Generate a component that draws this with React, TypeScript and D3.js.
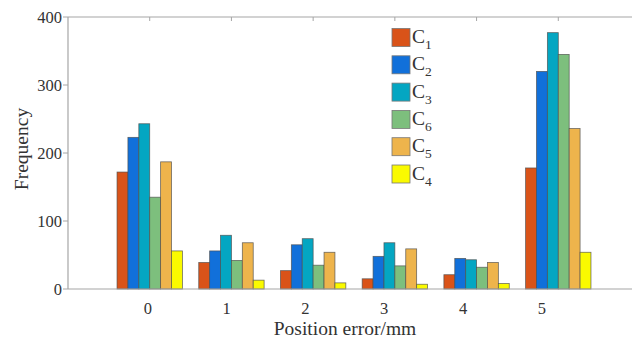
import React from "react";
import * as d3 from "d3";

// Position error categories (mm)
const categories = [0, 1, 2, 3, 4, 5];
const tickLabels = ["0", "1", "2", "3", "4", "5"];

// Frequency per series, in draw order
const seriesNames = ["1", "2", "3", "6", "5", "4"];
const c1 = [172, 39, 27, 15, 21, 178];
const c2 = [223, 56, 65, 48, 45, 320];
const c3 = [243, 79, 74, 68, 43, 377];
const c6 = [135, 42, 35, 34, 32, 345];
const c5 = [187, 68, 54, 59, 39, 236];
const c4 = [56, 13, 9, 7, 8, 54];
const seriesValues = [c1, c2, c3, c6, c5, c4];
const seriesColors = ["#D95319", "#1170DA", "#04A6C2", "#7DBF7D", "#EEB44C", "#FAFA00"];

const yTicks = [0, 100, 200, 300, 400];

const W = 632;
const H = 340;
const margin = { left: 68, top: 17, bottom: 289 };
const plotRight = 640;

export default function App() {
  const x = d3.scaleLinear().domain([-1, 6]).range([margin.left, plotRight]);
  const y = d3.scaleLinear().domain([0, 400]).range([margin.bottom, margin.top]);
  // tick labels sit on a slightly tighter spacing than the bar groups
  const xLabel = d3
    .scaleLinear()
    .domain([-1, 6])
    .range([margin.left + 1, margin.left + 1 + 7 * 78.8]);

  const groupWidth = (x(1) - x(0)) * 0.8;
  const inner = d3
    .scaleBand<number>()
    .domain(d3.range(seriesValues.length))
    .range([-groupWidth / 2, groupWidth / 2])
    .padding(0);

  const font = "'Liberation Serif', 'Times New Roman', serif";
  const axisColor = "#A6A6A6";
  const textColor = "#333";

  return (
    <svg
      width={W}
      height={H}
      style={{ position: "absolute", left: 0, top: 0, background: "#fff" }}
      fontFamily={font}
    >
      {/* bars */}
      {seriesValues.map((vals, si) =>
        categories.map((c, ci) => (
          <rect
            key={`${si}-${ci}`}
            x={x(c) + (inner(si) as number)}
            y={y(vals[ci])}
            width={inner.bandwidth()}
            height={y(0) - y(vals[ci])}
            fill={seriesColors[si]}
            stroke="#4d4d4d"
            strokeWidth={0.8}
            strokeOpacity={0.8}
          />
        ))
      )}

      {/* axes box */}
      <line x1={margin.left} x2={margin.left} y1={margin.top} y2={margin.bottom} stroke={axisColor} strokeWidth={1.2} />
      <line x1={margin.left} x2={W} y1={margin.bottom} y2={margin.bottom} stroke={axisColor} strokeWidth={1.2} />
      <line x1={margin.left} x2={W} y1={margin.top} y2={margin.top} stroke={axisColor} strokeWidth={1.2} />

      {/* top ticks at group centres */}
      {categories.map((c) => (
        <line key={`tt${c}`} x1={x(c)} x2={x(c)} y1={margin.top} y2={margin.top + 4} stroke={axisColor} strokeWidth={1} />
      ))}

      {/* y ticks and labels */}
      {yTicks.map((t) => (
        <g key={`y${t}`}>
          <line x1={margin.left - 5} x2={margin.left} y1={y(t)} y2={y(t)} stroke={axisColor} strokeWidth={1} />
          <text
            x={margin.left - 6}
            y={y(t)}
            dy="0.35em"
            textAnchor="end"
            fontSize={16.5}
            fill={textColor}
          >
            {t}
          </text>
        </g>
      ))}

      {/* x tick labels */}
      {categories.map((c, i) => (
        <text key={`xl${c}`} x={xLabel(c)} y={313.5} textAnchor="middle" fontSize={16.5} fill={textColor}>
          {tickLabels[i]}
        </text>
      ))}

      {/* axis titles */}
      <text x={345} y={334.5} textAnchor="middle" fontSize={19.5} fill={textColor}>
        Position error/mm
      </text>
      <text
        transform={`translate(28, 149) rotate(-90)`}
        textAnchor="middle"
        fontSize={19.5}
        fill={textColor}
      >
        Frequency
      </text>

      {/* legend */}
      {seriesNames.map((n, i) => {
        const top = 28.5 + i * 27.3;
        return (
          <g key={`lg${n}`}>
            <rect
              x={392}
              y={top}
              width={18}
              height={18}
              fill={seriesColors[i]}
              stroke="#777"
              strokeWidth={0.8}
            />
            <text x={412} y={top + 14.5} fontSize={19.5} fill={textColor}>
              C
              <tspan dy={6} fontSize={13.5}>
                {n}
              </tspan>
            </text>
          </g>
        );
      })}
    </svg>
  );
}
